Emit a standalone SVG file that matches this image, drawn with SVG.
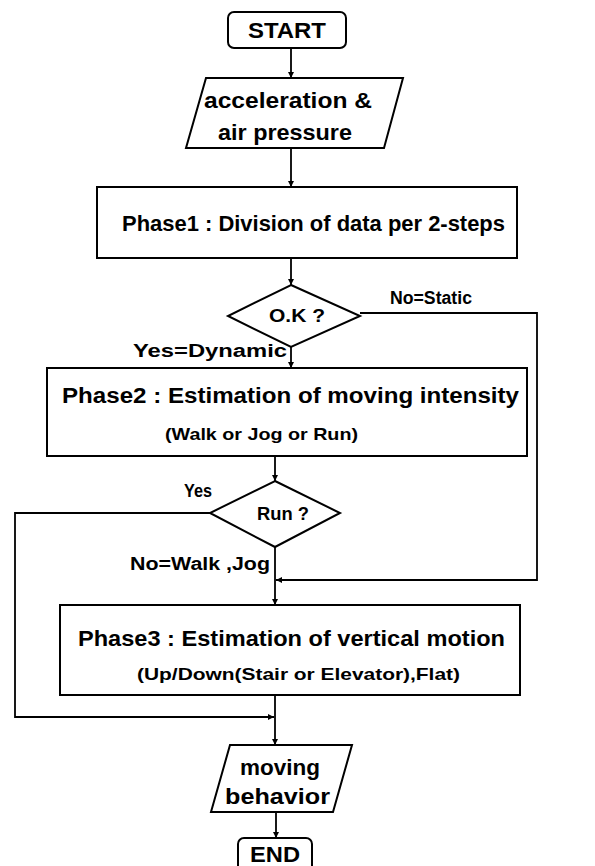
<svg xmlns="http://www.w3.org/2000/svg" width="595" height="866" viewBox="0 0 595 866">
  <style>
    .shape { fill: #ffffff; stroke: #000000; stroke-width: 2; }
    .wire { fill: none; stroke: #000000; stroke-width: 1.8; }
    .t { font-family: "Liberation Sans", Arial, Helvetica, sans-serif; font-weight: bold; fill: #000000; }
    .big { font-size: 22px; }
    .mid { font-size: 18px; }
    .sm { font-size: 17px; }
  </style>
  <defs>
    <marker id="arrow" viewBox="0 0 8 8" refX="8" refY="4" markerWidth="6" markerHeight="6" markerUnits="userSpaceOnUse" orient="auto">
      <path d="M0,0 L8,4 L0,8 z" fill="#000000"/>
    </marker>
  </defs>

  <rect width="595" height="866" fill="#ffffff"/>

  <!-- connectors -->
  <g id="connectors">
    <line class="wire" x1="291" y1="48" x2="291" y2="78" marker-end="url(#arrow)"/>
    <line class="wire" x1="291" y1="148" x2="291" y2="187" marker-end="url(#arrow)"/>
    <line class="wire" x1="291" y1="258" x2="291" y2="285" marker-end="url(#arrow)"/>
    <line class="wire" x1="291" y1="347" x2="291" y2="368" marker-end="url(#arrow)"/>
    <polyline class="wire" points="360,313 537,313 537,580 276,580" marker-end="url(#arrow)"/>
    <line class="wire" x1="275" y1="456" x2="275" y2="481" marker-end="url(#arrow)"/>
    <line class="wire" x1="275" y1="547" x2="275" y2="605" marker-end="url(#arrow)"/>
    <polyline class="wire" points="210,513 15,513 15,717 274,717" marker-end="url(#arrow)"/>
    <line class="wire" x1="275" y1="695" x2="275" y2="745" marker-end="url(#arrow)"/>
    <line class="wire" x1="276" y1="812" x2="276" y2="838" marker-end="url(#arrow)"/>
  </g>

  <!-- edge labels -->
  <g id="labels">
    <text class="t mid" x="390" y="304" textLength="82" lengthAdjust="spacingAndGlyphs">No=Static</text>
    <text class="t mid" x="133" y="357" textLength="154" lengthAdjust="spacingAndGlyphs">Yes=Dynamic</text>
    <text class="t mid" x="184" y="497" textLength="28" lengthAdjust="spacingAndGlyphs">Yes</text>
    <text class="t mid" x="130" y="570" textLength="140" lengthAdjust="spacingAndGlyphs">No=Walk ,Jog</text>
  </g>

  <g id="start">
    <rect class="shape" x="228" y="12" width="118" height="36" rx="6"/>
    <text class="t big" x="287" y="38" text-anchor="middle" textLength="78" lengthAdjust="spacingAndGlyphs">START</text>
  </g>

  <g id="input">
    <polygon class="shape" points="206,78 403,78 384,148 186,148"/>
    <text class="t big" x="204" y="108" textLength="168" lengthAdjust="spacingAndGlyphs">acceleration  &amp;</text>
    <text class="t big" x="218" y="140" textLength="134" lengthAdjust="spacingAndGlyphs">air pressure</text>
  </g>

  <g id="phase1">
    <rect class="shape" x="97" y="187" width="420" height="71"/>
    <text class="t big" x="122" y="231" textLength="383" lengthAdjust="spacingAndGlyphs">Phase1 : Division of data per 2-steps</text>
  </g>

  <g id="ok">
    <polygon class="shape" points="291,285 360,316 291,347 228,316"/>
    <text class="t mid" x="297" y="322" text-anchor="middle" textLength="56" lengthAdjust="spacingAndGlyphs">O.K ?</text>
  </g>

  <g id="phase2">
    <rect class="shape" x="47" y="368" width="480" height="88"/>
    <text class="t big" x="62" y="403" textLength="457" lengthAdjust="spacingAndGlyphs">Phase2 : Estimation of moving intensity</text>
    <text class="t sm" x="165" y="440" textLength="193" lengthAdjust="spacingAndGlyphs">(Walk or Jog or Run)</text>
  </g>

  <g id="run">
    <polygon class="shape" points="275,481 340,513 275,547 210,513"/>
    <text class="t mid" x="283" y="520" text-anchor="middle" textLength="52" lengthAdjust="spacingAndGlyphs">Run ?</text>
  </g>

  <g id="phase3">
    <rect class="shape" x="60" y="605" width="460" height="90"/>
    <text class="t big" x="78" y="646" textLength="427" lengthAdjust="spacingAndGlyphs">Phase3 : Estimation of vertical motion</text>
    <text class="t sm" x="137" y="680" textLength="323" lengthAdjust="spacingAndGlyphs">(Up/Down(Stair or Elevator),Flat)</text>
  </g>

  <g id="output">
    <polygon class="shape" points="230,745 352,745 333,812 211,812"/>
    <text class="t big" x="240" y="775" textLength="80" lengthAdjust="spacingAndGlyphs">moving</text>
    <text class="t big" x="225" y="804" textLength="105" lengthAdjust="spacingAndGlyphs">behavior</text>
  </g>

  <g id="end">
    <rect class="shape" x="238" y="838" width="74" height="34" rx="6"/>
    <text class="t big" x="275" y="862" text-anchor="middle" textLength="50" lengthAdjust="spacingAndGlyphs">END</text>
  </g>
</svg>
